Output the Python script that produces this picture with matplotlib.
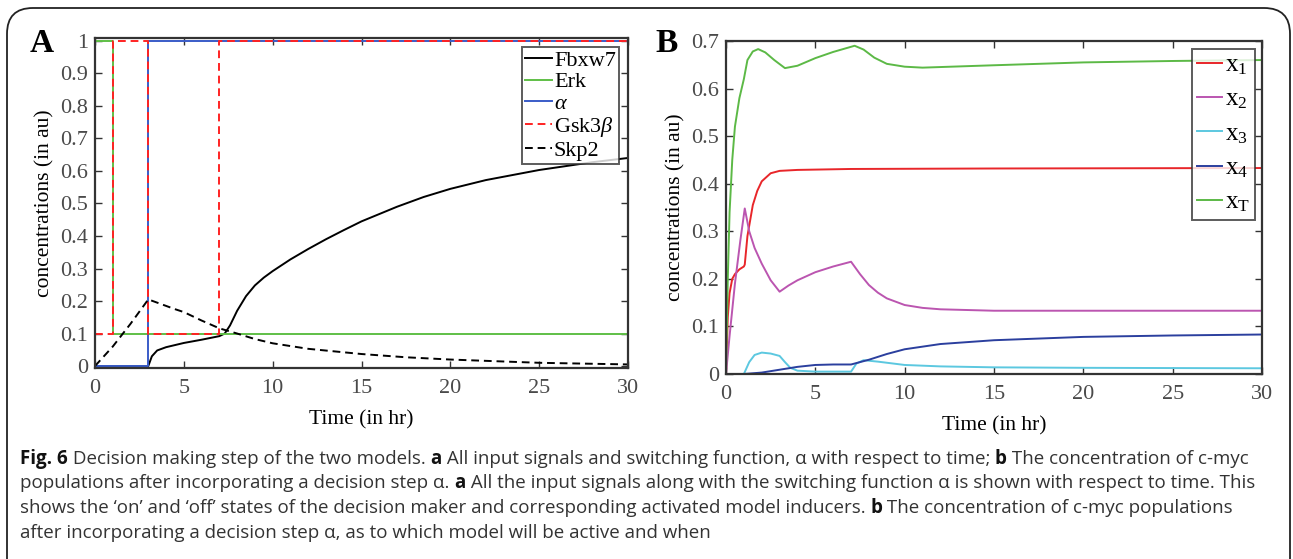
import numpy as np
import matplotlib
matplotlib.use("Agg")
import matplotlib.pyplot as plt
from matplotlib.patches import FancyBboxPatch

# ---- panel A data ----
t_fbxw7 = [0, 3, 3.2, 3.5, 4, 5, 6, 7, 7.3, 7.6, 8, 8.5, 9, 9.5, 10, 11, 12, 13, 14, 15, 17, 18.5, 20, 22, 25, 28, 30]
fbxw7 = [0, 0, 0.03, 0.048, 0.058, 0.071, 0.081, 0.092, 0.1, 0.125, 0.17, 0.215, 0.248, 0.272, 0.292, 0.328,
         0.36, 0.39, 0.418, 0.445, 0.49, 0.52, 0.545, 0.572, 0.603, 0.627, 0.64]
t_erk = [0, 1, 1, 30]
erk = [1, 1, 0.1, 0.1]
t_alpha = [0, 3, 3, 30]
alpha = [0, 0, 1, 1]
t_gsk = [0, 1, 1, 3, 3, 7, 7, 30]
gsk = [0.1, 0.1, 1, 1, 0.1, 0.1, 1, 1]
t_skp2 = [0, 1, 2, 3, 3.5, 4, 4.5, 5, 6, 7, 8, 9, 10, 12, 15, 17.5, 20, 25, 30]
skp2 = [0, 0.06, 0.13, 0.205, 0.195, 0.185, 0.175, 0.166, 0.14, 0.116, 0.1, 0.083, 0.07, 0.053, 0.037,
        0.027, 0.02, 0.01, 0.005]

# ---- panel B data ----
t_x1 = [0, 0.1, 0.2, 0.35, 0.5, 0.75, 1.0, 1.05, 1.2, 1.5, 1.75, 2.0, 2.5, 3.0, 4, 7, 15, 30]
x1 = [0, 0.12, 0.17, 0.2, 0.21, 0.22, 0.226, 0.23, 0.29, 0.355, 0.385, 0.405, 0.422, 0.427, 0.429, 0.431, 0.432, 0.433]
t_x2 = [0, 0.2, 0.5, 0.8, 1.05, 1.3, 1.6, 2.0, 2.5, 3.0, 3.5, 4, 5, 6, 7, 7.5, 8, 8.5, 9, 10, 11, 12, 15, 30]
x2 = [0, 0.08, 0.19, 0.28, 0.348, 0.3, 0.265, 0.232, 0.197, 0.173, 0.186, 0.197, 0.214, 0.226, 0.236, 0.21,
      0.187, 0.171, 0.159, 0.145, 0.139, 0.136, 0.133, 0.133]
t_x3 = [0, 1.0, 1.3, 1.6, 2.0, 2.5, 3.0, 3.3, 3.6, 4.0, 5, 7, 7.3, 7.7, 8.5, 10, 12, 15, 20, 30]
x3 = [0, 0, 0.025, 0.04, 0.045, 0.043, 0.038, 0.025, 0.013, 0.007, 0.005, 0.005, 0.022, 0.029, 0.026,
      0.019, 0.016, 0.014, 0.013, 0.012]
t_x4 = [0, 1, 2, 3, 4, 5, 6, 7, 8, 9, 10, 12, 15, 20, 25, 30]
x4 = [0, 0, 0.003, 0.009, 0.015, 0.019, 0.02, 0.02, 0.03, 0.042, 0.052, 0.063, 0.071, 0.078, 0.081, 0.083]
t_xT = [0, 0.1, 0.2, 0.35, 0.5, 0.75, 1.0, 1.2, 1.5, 1.8, 2.2, 2.7, 3.3, 4, 5, 6, 7.2, 7.7, 8.3, 9, 10, 11, 15, 20, 25, 30]
xT = [0, 0.2, 0.34, 0.45, 0.52, 0.58, 0.62, 0.66, 0.678, 0.683, 0.676, 0.66, 0.643, 0.648, 0.664, 0.677,
      0.69, 0.682, 0.665, 0.652, 0.646, 0.644, 0.649, 0.655, 0.658, 0.66]

ticks_a_y = [0, 0.1, 0.2, 0.3, 0.4, 0.5, 0.6, 0.7, 0.8, 0.9, 1]
ticks_b_y = [0, 0.1, 0.2, 0.3, 0.4, 0.5, 0.6, 0.7]
ticks_x = [0, 5, 10, 15, 20, 25, 30]

serif = ['Liberation Serif', 'DejaVu Serif']
plt.rcParams['font.family'] = serif
plt.rcParams['mathtext.fontset'] = 'custom'
plt.rcParams['mathtext.rm'] = 'Liberation Serif'
plt.rcParams['mathtext.it'] = 'Liberation Serif:italic'

fig = plt.figure(figsize=(12.93, 5.59), dpi=100)
W, H = 1293, 559


def ax_at(l, t, r, b):
    return fig.add_axes([l / W, 1 - b / H, (r - l) / W, (b - t) / H])


def style(ax, yt):
    ax.set_xlim(0, 30)
    ax.set_xticks(ticks_x)
    ax.set_yticks(yt)
    ax.set_yticklabels([('%g' % v) for v in yt])
    ax.tick_params(direction='in', top=True, right=True, length=5, width=1, labelsize=16,
                   labelcolor='#4a4a4a', color='#333333')
    ax.tick_params(axis='x', pad=8)
    ax.tick_params(axis='y', pad=5)
    for s in ax.spines.values():
        s.set_color('#333333')
        s.set_linewidth(1.6)
    ax.set_xlabel('Time (in hr)', fontsize=15.5, labelpad=9)
    ax.set_ylabel('concentrations (in au)', fontsize=15.5, labelpad=4)


lw = 1.4
dash = (4, 2.5)

# panel A
ax = ax_at(95, 38, 628, 368)
ax.plot(t_fbxw7, fbxw7, color='black', lw=lw, label='Fbxw7')
ax.plot(t_erk, erk, color='#5fbf46', lw=lw, label='Erk')
ax.plot(t_alpha, alpha, color='#3a5cc8', lw=lw, label=r'$\it{\alpha}$')
ax.plot(t_gsk, gsk, color='#ff2222', lw=lw, dashes=dash, label=r'Gsk3$\it{\beta}$')
ax.plot(t_skp2, skp2, color='black', lw=lw, dashes=dash, label='Skp2')
ax.set_ylim(-0.006, 1.009)
style(ax, ticks_a_y)
leg = ax.legend(loc='upper right', fontsize=16, handlelength=1.2, handletextpad=0.1,
                labelspacing=0.05, borderpad=0.15, borderaxespad=0.4, fancybox=False,
                frameon=True, edgecolor='#333333')
leg.get_frame().set_linewidth(1.4)
fig.text(30 / W, 1 - 52 / H, 'A', fontsize=24, fontweight='bold', family=serif)

# panel B
ax = ax_at(726, 41, 1262, 374)
ax.plot(t_x1, x1, color='#e8262a', lw=lw, label=r'$\mathregular{x_1}$')
ax.plot(t_x2, x2, color='#bb55b0', lw=lw, label=r'$\mathregular{x_2}$')
ax.plot(t_x3, x3, color='#5cc8e0', lw=lw, label=r'$\mathregular{x_3}$')
ax.plot(t_x4, x4, color='#2b3f9e', lw=lw, label=r'$\mathregular{x_4}$')
ax.plot(t_xT, xT, color='#5cb946', lw=lw, label=r'$\mathregular{x_T}$')
ax.set_ylim(0, 0.7)
style(ax, ticks_b_y)
leg = ax.legend(loc='upper right', fontsize=18, handlelength=1.0, handletextpad=0.1,
                labelspacing=0.45, borderpad=0.2, borderaxespad=0.0, fancybox=False,
                frameon=True, edgecolor='#333333', bbox_to_anchor=(1 - 7 / 536, 1 - 8 / 333))
leg.get_frame().set_linewidth(1.4)
fig.text(655 / W, 1 - 52 / H, 'B', fontsize=24, fontweight='bold', family=serif)

# frame round the whole figure
box = FancyBboxPatch((7 / W, -0.05), (1283 / W), 1 - 8 / H + 0.05,
                     boxstyle='round,pad=0,rounding_size=0.02', transform=fig.transFigure,
                     fill=False, edgecolor='#222222', lw=1.3, mutation_aspect=W / H)
fig.patches.append(box)

# caption with bold pieces
caption = [
    [('Fig. 6', True), (' Decision making step of the two models. ', False), ('a', True),
     (' All input signals and switching function, \u03b1 with respect to time; ', False), ('b', True),
     (' The concentration of c-myc', False)],
    [('populations after incorporating a decision step \u03b1. ', False), ('a', True),
     (' All the input signals along with the switching function \u03b1 is shown with respect to time. This', False)],
    [('shows the \u2018on\u2019 and \u2018off\u2019 states of the decision maker and corresponding activated model inducers. ', False),
     ('b', True), (' The concentration of c-myc populations', False)],
    [('after incorporating a decision step \u03b1, as to which model will be active and when', False)],
]
cap_font = ['Open Sans', 'DejaVu Sans']
renderer = fig.canvas.get_renderer()
y0 = 464
for i, line in enumerate(caption):
    x = 20
    y = y0 + i * 24.5
    for s, bold in line:
        tx = fig.text(x / W, 1 - y / H, s, fontsize=13.5, family=cap_font,
                      fontweight='bold' if bold else 'normal',
                      color='#111111' if bold else '#333333', va='baseline')
        x += tx.get_window_extent(renderer).width

fig.savefig('out.png', dpi=100)
